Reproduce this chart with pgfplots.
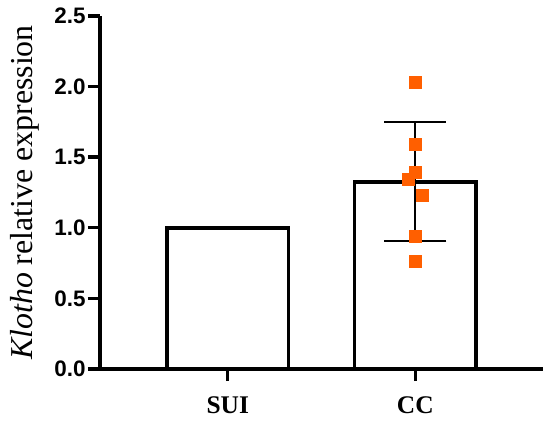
\documentclass[border=0pt]{standalone}
\usepackage{pgfplots}
\pgfplotsset{compat=1.18}
\usepackage{fontspec}
\setmainfont{Liberation Serif}
\newfontfamily\tickfont{Liberation Sans}
\definecolor{ptorange}{RGB}{255,95,0}
\begin{document}
\begin{tikzpicture}
\useasboundingbox (0,0) rectangle (550bp,422bp);
\begin{axis}[
  at={(100bp,53bp)}, anchor=south west,
  scale only axis, width=442.7bp, height=353bp,
  xmin=-0.681, xmax=1.679, ymin=0, ymax=2.5,
  axis x line=bottom, axis y line=left,
  axis line style={line width=3.6bp, -},
  clip=false,
  xtick={0,1}, xticklabels={SUI,CC},
  ytick={0,0.5,1,1.5,2,2.5},
  /pgf/number format/assume math mode=true,
  tick align=outside,
  major tick length=12bp,
  major tick style={line width=3.4bp, black},
  xticklabel style={font=\fontsize{25.5}{29}\selectfont\bfseries, yshift=-12bp},
  yticklabel style={/pgf/number format/fixed, /pgf/number format/fixed zerofill, /pgf/number format/precision=1, font=\tickfont\fontsize{22.5}{26}\selectfont\bfseries, xshift=1bp},
  ylabel={\textit{Klotho} relative expression},
  ylabel style={at={(axis description cs:-0.152,0.5)}, anchor=base, font=\fontsize{32}{37}\selectfont},
]
\addplot[ybar, bar width=0.647, fill=white, draw=black, line width=3.6bp] coordinates {(0,1.0) (1,1.325)};
\addplot[only marks, mark=square*, mark size=6bp, color=ptorange, mark options={solid, fill=ptorange, draw=ptorange}]
  coordinates {(1,2.033) (1,1.59) (1,1.397) (0.963,1.343) (1.034,1.232) (1,0.937) (1,0.76)};
\addplot[draw=none, mark=none,
  error bars/.cd, y dir=both, y explicit,
  error bar style={line width=2bp, black},
  error mark options={rotate=90, mark size=31bp, line width=2bp, black}]
  coordinates {(1,1.325) +- (0,0.422)};
\end{axis}
\end{tikzpicture}
\end{document}
